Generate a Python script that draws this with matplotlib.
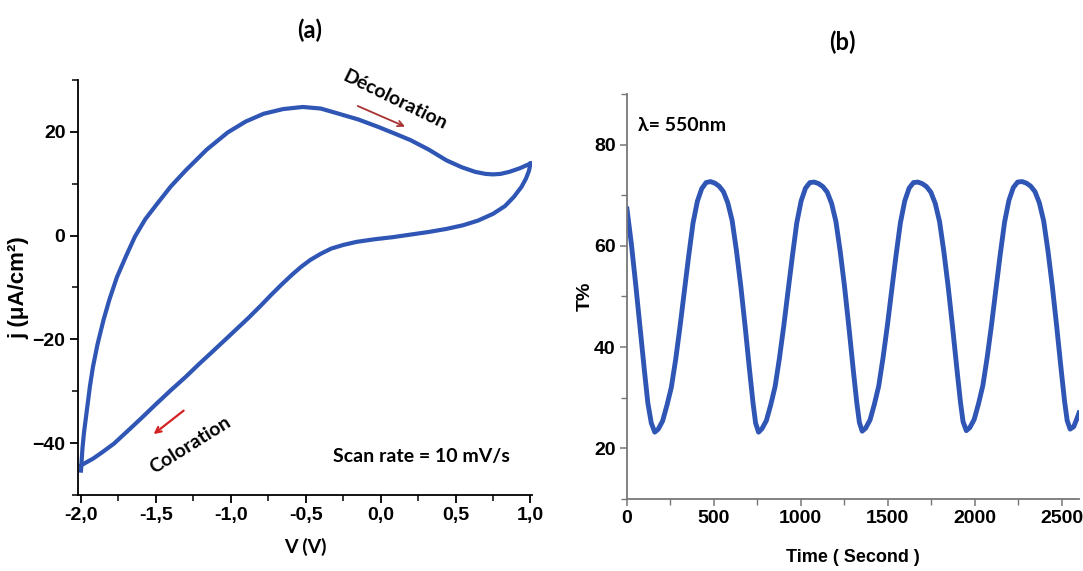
import matplotlib
matplotlib.use("Agg")
import matplotlib.pyplot as plt
from matplotlib.ticker import MultipleLocator, FuncFormatter

# (a) cyclic voltammogram
v_up = [-2.00, -1.99, -1.98, -1.96, -1.94, -1.92, -1.89, -1.85, -1.81, -1.76,
        -1.70, -1.64, -1.57, -1.49, -1.40, -1.30, -1.16, -1.02, -0.90, -0.78,
        -0.65, -0.52, -0.40, -0.28, -0.15, -0.02, 0.10, 0.20, 0.32, 0.44,
        0.54, 0.63, 0.70, 0.75, 0.80, 0.86, 0.93, 1.00]
j_up = [-45.3, -41.0, -38.0, -33.5, -29.0, -25.3, -21.0, -16.3, -12.3, -8.0,
        -4.0, -0.2, 3.2, 6.2, 9.5, 12.6, 16.6, 19.9, 22.0, 23.5,
        24.4, 24.8, 24.5, 23.5, 22.4, 21.0, 19.6, 18.4, 16.6, 14.5,
        13.2, 12.3, 11.9, 11.8, 11.9, 12.3, 13.0, 13.9]
v_down = [1.00, 0.99, 0.97, 0.94, 0.89, 0.83, 0.75, 0.65, 0.55, 0.44,
          0.32, 0.20, 0.08, -0.04, -0.16, -0.25, -0.33, -0.40, -0.47, -0.53,
          -0.59, -0.66, -0.73, -0.80, -0.88, -0.95, -1.02, -1.12, -1.21, -1.30,
          -1.40, -1.50, -1.59, -1.69, -1.78, -1.86, -1.92, -1.97, -2.00]
j_down = [13.9, 12.5, 11.0, 9.4, 7.5, 5.7, 4.2, 2.9, 2.0, 1.3,
          0.7, 0.2, -0.3, -0.7, -1.2, -1.8, -2.5, -3.5, -4.7, -6.0,
          -7.5, -9.4, -11.4, -13.5, -15.8, -17.7, -19.6, -22.3, -24.7, -27.2,
          -29.8, -32.5, -35.0, -37.7, -40.1, -41.8, -43.0, -43.8, -44.3]

# (b) transmittance at 550 nm vs time
t_s = [0, 25, 50, 75, 100, 120, 140, 160,
       180, 205, 230, 255, 280, 305, 330, 355, 380, 405, 430, 455, 480, 505,
       530, 555, 580, 605, 630, 655, 680, 705, 725, 740, 757,
       777, 802, 827, 852, 877, 902, 927, 952, 977, 1002, 1027, 1052, 1077, 1102,
       1127, 1152, 1177, 1202, 1227, 1252, 1277, 1302, 1322, 1337, 1353,
       1373, 1398, 1423, 1448, 1473, 1498, 1523, 1548, 1573, 1598, 1623, 1648, 1673, 1698,
       1723, 1748, 1773, 1798, 1823, 1848, 1873, 1898, 1918, 1933, 1952,
       1972, 1997, 2022, 2047, 2072, 2097, 2122, 2147, 2172, 2197, 2222, 2247, 2272, 2297,
       2322, 2347, 2372, 2397, 2422, 2447, 2472, 2497, 2517, 2532, 2549,
       2570, 2585, 2600]
T_pct = [67.3, 60.5, 52.5, 44.0, 35.5, 29.0, 25.0, 23.2,
         23.8, 25.4, 28.5, 32.0, 37.5, 44.0, 51.0, 58.0, 64.5, 68.8, 71.3, 72.5, 72.7, 72.4,
         71.8, 70.7, 68.5, 65.0, 59.0, 52.0, 44.0, 35.5, 29.0, 25.0, 23.2,
         23.9, 25.5, 28.6, 32.2, 37.8, 44.2, 51.2, 58.1, 64.6, 68.9, 71.4, 72.5, 72.6, 72.3,
         71.7, 70.6, 68.4, 64.8, 58.8, 51.8, 43.8, 35.4, 29.0, 25.1, 23.4,
         24.0, 25.6, 28.7, 32.3, 37.9, 44.3, 51.3, 58.2, 64.6, 68.9, 71.4, 72.5, 72.6, 72.3,
         71.7, 70.6, 68.4, 64.8, 58.8, 51.8, 43.9, 35.6, 29.2, 25.3, 23.5,
         24.1, 25.7, 28.8, 32.4, 38.0, 44.4, 51.4, 58.3, 64.7, 69.0, 71.5, 72.6, 72.7, 72.4,
         71.8, 70.7, 68.5, 64.9, 58.9, 51.9, 44.0, 35.7, 29.3, 25.5, 23.8,
         24.3, 25.6, 27.0]

blue = "#2f56b5"
tick_font = ["Liberation Sans", "DejaVu Sans"]
note_font = ["Lato", "DejaVu Sans"]

fig = plt.figure(figsize=(10.83, 5.71), dpi=100)

comma = FuncFormatter(lambda x, p: f"{x:.1f}".replace(".", ","))

# ---- panel (a)
ax1 = fig.add_axes([0.0720, 0.1331, 0.4192, 0.7268])
ax1.plot(v_up, j_up, color=blue, lw=3, solid_joinstyle="round")
ax1.plot(v_down, j_down, color=blue, lw=3, solid_joinstyle="round")
ax1.set_xlim(-2.02, 1.01)
ax1.set_ylim(-50, 30)
ax1.xaxis.set_major_locator(MultipleLocator(0.5))
ax1.xaxis.set_minor_locator(MultipleLocator(0.25))
ax1.xaxis.set_major_formatter(comma)
ax1.yaxis.set_major_locator(MultipleLocator(20))
ax1.yaxis.set_minor_locator(MultipleLocator(10))
for s in ["top", "right"]:
    ax1.spines[s].set_visible(False)
for s in ["left", "bottom"]:
    ax1.spines[s].set_linewidth(1.3)
ax1.tick_params(which="major", direction="out", length=6, width=1.3, labelsize=14, pad=3)
ax1.tick_params(which="minor", direction="out", length=4, width=1.1)
for lab in ax1.get_xticklabels() + ax1.get_yticklabels():
    lab.set_family(tick_font)
    lab.set_fontweight("bold")
ax1.set_xlabel("V (V)", fontsize=14, fontweight="bold", family=note_font, labelpad=10)
ax1.set_ylabel("j (μA/cm²)", fontsize=16, fontweight="bold", family=tick_font, labelpad=2)

ax1.annotate("", xy=(0.18, 20.8), xytext=(-0.17, 25.2),
             arrowprops=dict(arrowstyle="->", color="#a83232", lw=1.3))
ax1.text(0.093, 26.2, "Décoloration", rotation=-26, ha="center", va="center",
         fontsize=14, fontweight="bold", family=note_font, rotation_mode="anchor")
ax1.annotate("", xy=(-1.53, -38.6), xytext=(-1.30, -33.4),
             arrowprops=dict(arrowstyle="->", color="#d42222", lw=1.6))
ax1.text(-1.273, -40.4, "Coloration", rotation=32, ha="center", va="center",
         fontsize=14, fontweight="bold", family=note_font, rotation_mode="anchor")
ax1.text(0.273, -42.5, "Scan rate = 10 mV/s", ha="center", va="center",
         fontsize=14, fontweight="bold", family=note_font)

# ---- panel (b)
ax2 = fig.add_axes([0.5789, 0.1261, 0.4174, 0.7093])
ax2.plot(t_s, T_pct, color=blue, lw=3.5, solid_joinstyle="round")
ax2.set_xlim(0, 2600)
ax2.set_ylim(10, 90)
ax2.xaxis.set_major_locator(MultipleLocator(500))
ax2.xaxis.set_minor_locator(MultipleLocator(250))
ax2.yaxis.set_major_locator(MultipleLocator(20))
ax2.yaxis.set_minor_locator(MultipleLocator(10))
for s in ["top", "right"]:
    ax2.spines[s].set_visible(False)
for s in ["left", "bottom"]:
    ax2.spines[s].set_color("#777777")
    ax2.spines[s].set_linewidth(1.3)
ax2.tick_params(which="major", direction="out", length=5, width=1.1, color="#777777",
                labelsize=14, pad=3)
ax2.tick_params(which="minor", direction="out", length=4, width=1.0, color="#777777")
for lab in ax2.get_xticklabels() + ax2.get_yticklabels():
    lab.set_family(tick_font)
    lab.set_fontweight("bold")
ax2.set_xlabel("Time ( Second )", fontsize=13, fontweight="bold", family=tick_font, labelpad=16)
ax2.set_ylabel("T%", fontsize=14, fontweight="bold", family=tick_font, labelpad=0)
ax2.text(63, 83.7, "λ= 550nm", ha="left", va="center",
         fontsize=14, fontweight="bold", family=note_font)

fig.text(0.286, 0.947, "(a)", ha="center", va="center", fontsize=17,
         fontweight="bold", family=note_font)
fig.text(0.778, 0.926, "(b)", ha="center", va="center", fontsize=17,
         fontweight="bold", family=note_font)

fig.savefig("out.png", dpi=100)
